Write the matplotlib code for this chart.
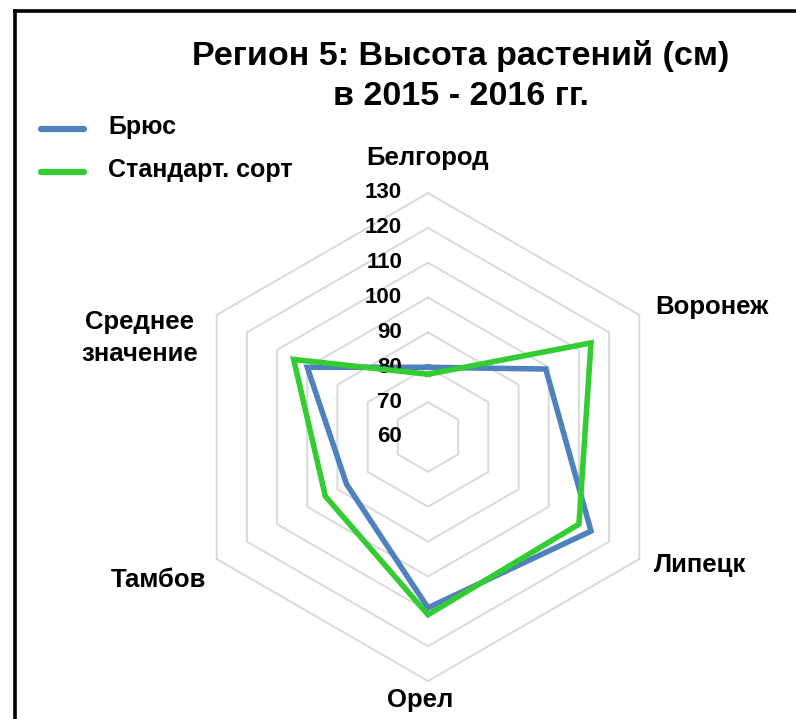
import numpy as np
import matplotlib
matplotlib.use("Agg")
import matplotlib.pyplot as plt
from matplotlib.lines import Line2D

plt.rcParams['font.family'] = ['Liberation Sans', 'DejaVu Sans']

categories = ["Белгород", "Воронеж", "Липецк", "Орел", "Тамбов", "Среднее\nзначение"]
brus = [80, 99, 114, 109, 87, 100]
standard = [78, 114, 110, 111, 94, 104.5]
series_names = ["Брюс", "Стандарт. сорт"]
r_ticks = [60, 70, 80, 90, 100, 110, 120, 130]
title = "Регион 5: Высота растений (см)\nв 2015 - 2016 гг."

W, H = 796, 719
fig = plt.figure(figsize=(W / 100, H / 100), dpi=100)

cx, cy, R = 428, 437, 244
ax = fig.add_axes([(cx - R) / W, (H - cy - R) / H, 2 * R / W, 2 * R / H], projection='polar')
ax.set_theta_offset(np.pi / 2)
ax.set_theta_direction(-1)
ax.set_ylim(r_ticks[0], r_ticks[-1])
ax.axis('off')

n = len(categories)
theta = np.linspace(0, 2 * np.pi, n, endpoint=False)
theta_c = np.append(theta, theta[0])

for v in r_ticks[1:]:
    ax.plot(theta_c, [v] * (n + 1), color='#d9d9d9', lw=1.4, zorder=1, clip_on=False)

blue = '#4f81bd'
green = '#33cc33'
ax.plot(theta_c, brus + brus[:1], color=blue, lw=4.0, zorder=3, clip_on=False, solid_joinstyle='miter')
ax.plot(theta_c, standard + standard[:1], color=green, lw=4.0, zorder=4, clip_on=False, solid_joinstyle='miter')

for v in r_ticks:
    ax.annotate(str(v), xy=(0, v), xytext=(-26, 0), textcoords='offset pixels',
                ha='right', va='center', fontsize=16, fontweight='bold', color='black',
                annotation_clip=False)

offsets = [(0, 35), (73, 8), (61, -6), (-8, -19), (-58, -21), (-77, -23)]
for t, lab, off in zip(theta, categories, offsets):
    ax.annotate(lab, xy=(t, r_ticks[-1]), xytext=off, textcoords='offset pixels',
                ha='center', va='center', fontsize=18.5, fontweight='bold', color='black',
                annotation_clip=False, linespacing=1.45)

fig.text(461 / W, 1 - 76 / H, title, ha='center', va='center', fontsize=24.5,
         fontweight='bold', linespacing=1.4)

# legend
for i, (name, col) in enumerate(zip(series_names, [blue, green])):
    y = 1 - (129 + 43 * i) / H
    fig.add_artist(Line2D([41 / W, 84 / W], [y, y], color=col, lw=4.5,
                          solid_capstyle='round', transform=fig.transFigure))
    fig.text(108 / W, y + 2 / H, name, ha='left', va='center', fontsize=18,
             fontweight='bold')

# frame
fig.add_artist(Line2D([14.5 / W, 14.5 / W], [0, 1 - 10.5 / H], color='black', lw=2.6,
                      transform=fig.transFigure, solid_capstyle='projecting'))
fig.add_artist(Line2D([14.5 / W, 1], [1 - 10.5 / H, 1 - 10.5 / H], color='black', lw=2.6,
                      transform=fig.transFigure, solid_capstyle='projecting'))

fig.savefig('out.png', dpi=100, facecolor='white')
